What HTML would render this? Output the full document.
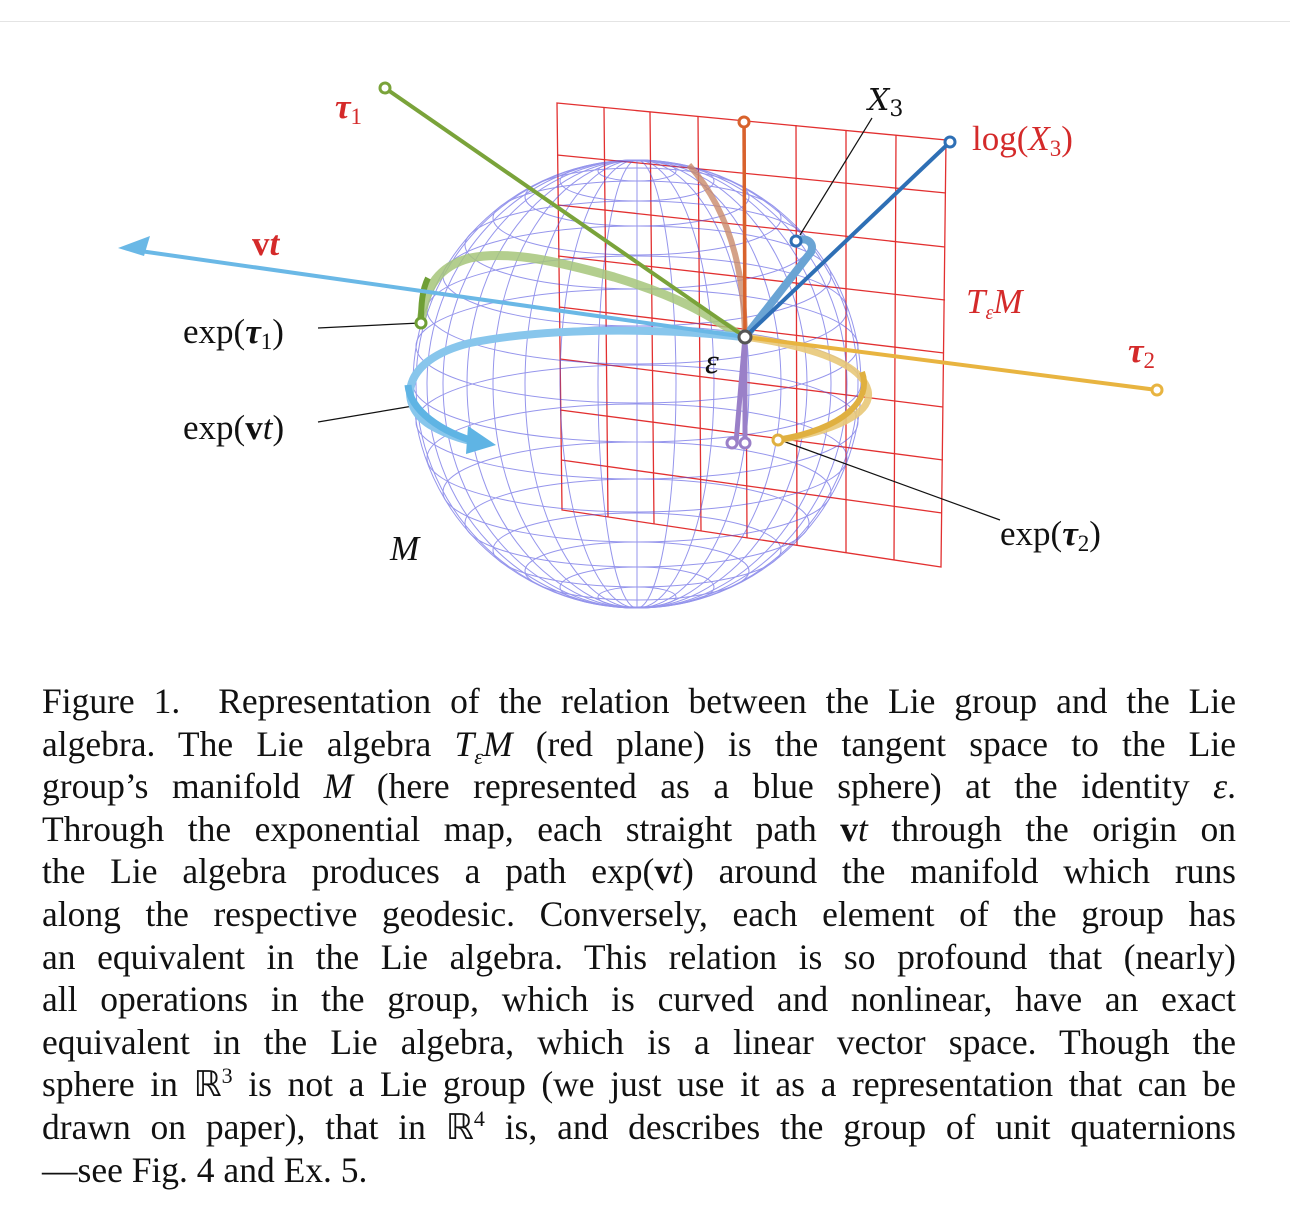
<!DOCTYPE html>
<html><head><meta charset="utf-8"><style>
body{margin:0;background:#fff;width:1290px;height:1222px;overflow:hidden;position:relative;font-family:"Liberation Serif",serif}
.cap{position:absolute;left:42px;top:680px;width:1194px;font-size:35.5px;line-height:42.6px;color:#111}
.cap div{text-align:justify;text-align-last:justify;white-space:nowrap;height:42.6px}
.cap div.l{text-align-last:left}
.cap sub,.cap sup{line-height:0;font-size:22px}
i{font-style:italic}
</style></head><body>
<div style="position:absolute;left:0;top:21px;width:1290px;height:1px;background:#e4e4e4"></div>
<svg width="1290" height="660" style="position:absolute;left:0;top:0" font-family="Liberation Serif,serif">
<g stroke="#e23030" stroke-width="1.3" fill="none">
<path d="M557,103 L946,140 L941,567 L562,510 Z"/>
<path d="M604,107 L608,517 M650,112 L654,524 M698,116 L701,531 M745,121 L747,538 M796,125 L797,545 M846,130 L846,553 M896,135 L894,560"/>
<path d="M557,155 L946,193 M558,205 L945,247 M558,256 L945,300 M559,307 L944,353 M560,359 L943,407 M560,410 L943,460 M561,460 L942,513"/>
</g>
<g stroke="#5050e0" stroke-width="1" fill="none" opacity="0.6">
<ellipse cx="637" cy="384" rx="224" ry="224"/>
<line x1="637" y1="160" x2="637" y2="608"/>
<ellipse cx="637" cy="384" rx="39" ry="224"/><ellipse cx="637" cy="384" rx="77" ry="224"/>
<ellipse cx="637" cy="384" rx="112" ry="224"/><ellipse cx="637" cy="384" rx="144" ry="224"/>
<ellipse cx="637" cy="384" rx="170" ry="224"/><ellipse cx="637" cy="384" rx="194" ry="224"/>
<ellipse cx="637" cy="384" rx="210" ry="224"/><ellipse cx="637" cy="384" rx="221" ry="224"/>
<ellipse cx="637" cy="384" rx="224" ry="58"/>
<ellipse cx="637" cy="346" rx="221" ry="57"/><ellipse cx="637" cy="422" rx="221" ry="57"/>
<ellipse cx="637" cy="310" rx="210" ry="54"/><ellipse cx="637" cy="458" rx="210" ry="54"/>
<ellipse cx="637" cy="276" rx="194" ry="50"/><ellipse cx="637" cy="492" rx="194" ry="50"/>
<ellipse cx="637" cy="245" rx="172" ry="44"/><ellipse cx="637" cy="523" rx="172" ry="44"/>
<ellipse cx="637" cy="218" rx="144" ry="37"/><ellipse cx="637" cy="550" rx="144" ry="37"/>
<ellipse cx="637" cy="197" rx="112" ry="29"/><ellipse cx="637" cy="571" rx="112" ry="29"/>
<ellipse cx="637" cy="181" rx="77" ry="20"/><ellipse cx="637" cy="587" rx="77" ry="20"/>
<ellipse cx="637" cy="171" rx="39" ry="10"/><ellipse cx="637" cy="597" rx="39" ry="10"/>
</g>
<g stroke="#111" stroke-width="1.2" fill="none">
<line x1="318" y1="328" x2="420" y2="323"/>
<line x1="318" y1="422" x2="413" y2="406"/>
<line x1="872" y1="118" x2="800" y2="235"/>
<line x1="1000" y1="520" x2="780" y2="440"/>
</g>
<path d="M743,337 C715,320 690,300 614,277 C560,262 510,250 470,258 C440,266 425,285 421,323" stroke="#a6c67a" stroke-width="9" fill="none" opacity="0.85"/>
<path d="M428,278 C422,290 421,305 421,323" stroke="#6f9f35" stroke-width="6" fill="none"/>
<path d="M745,337 C744,290 738,220 689,165" stroke="#c98a6a" stroke-width="6" fill="none" opacity="0.8"/>
<path d="M743,337 C680,330 560,325 470,343 C400,360 398,405 430,425 C450,437 470,441 480,443" stroke="#88c6ec" stroke-width="8" fill="none"/>
<path d="M408,385 C410,410 440,432 480,443" stroke="#5fb4e4" stroke-width="7" fill="none"/>
<polygon points="468,426 496,445 466,454" fill="#5fb4e4"/>
<path d="M745,337 C800,345 860,360 868,390 C874,415 830,432 778,440" stroke="#e8c878" stroke-width="7" fill="none" opacity="0.9"/>
<path d="M862,372 C872,400 845,428 778,440" stroke="#e0b040" stroke-width="6" fill="none"/>
<path d="M745,337 L811,252 C815,242 806,238 800,240" stroke="#6aa4d4" stroke-width="8" fill="none"/>
<path d="M745,337 L736,443 M745,337 L745,443" stroke="#9a80c8" stroke-width="5" fill="none"/>
<line x1="745" y1="337" x2="385" y2="88" stroke="#7aa33a" stroke-width="4"/>
<line x1="745" y1="337" x2="133" y2="250" stroke="#6ab8e6" stroke-width="4"/>
<polygon points="118,248 150,236 144,256" fill="#6ab8e6"/>
<line x1="745" y1="337" x2="744" y2="122" stroke="#d8622c" stroke-width="3.5"/>
<line x1="745" y1="337" x2="950" y2="142" stroke="#2e6fb5" stroke-width="4"/>
<line x1="745" y1="337" x2="1157" y2="390" stroke="#e8b440" stroke-width="4"/>
<g fill="#fff" stroke-width="3">
<circle cx="385" cy="88" r="5" stroke="#7aa33a"/>
<circle cx="421" cy="323" r="5" stroke="#6f9f35"/>
<circle cx="744" cy="122" r="5" stroke="#d8622c"/>
<circle cx="950" cy="142" r="5" stroke="#2e6fb5"/>
<circle cx="796" cy="241" r="5" stroke="#2e6fb5"/>
<circle cx="1157" cy="390" r="5" stroke="#e8b440"/>
<circle cx="778" cy="440" r="5" stroke="#e0b040"/>
<circle cx="732" cy="443" r="5" stroke="#9a80c8"/>
<circle cx="745" cy="443" r="5" stroke="#9a80c8"/>
<circle cx="745" cy="337" r="6" stroke="#555"/>
</g>
<g font-size="35" fill="#111">
<text x="335" y="118" fill="#d42a2a" font-style="italic" font-weight="bold">τ<tspan font-size="23" dy="6" font-style="normal" font-weight="normal">1</tspan></text>
<text x="252" y="255" fill="#d42a2a" font-weight="bold">v<tspan font-style="italic">t</tspan></text>
<text x="868" y="110" font-style="italic" font-family="DejaVu Serif,serif" font-size="30">X<tspan font-size="22" dy="6" font-style="normal">3</tspan></text>
<text x="972" y="150" fill="#d42a2a">log(<tspan font-style="italic">X</tspan><tspan font-size="23" dy="6">3</tspan><tspan dy="-6">)</tspan></text>
<text x="966" y="313" fill="#d42a2a" font-style="italic">T<tspan font-size="20" dy="6">ε</tspan><tspan dy="-6">M</tspan></text>
<text x="1128" y="362" fill="#d42a2a" font-style="italic" font-weight="bold">τ<tspan font-size="23" dy="6" font-style="normal" font-weight="normal">2</tspan></text>
<text x="183" y="343">exp(<tspan font-style="italic" font-weight="bold">τ</tspan><tspan font-size="23" dy="6">1</tspan><tspan dy="-6">)</tspan></text>
<text x="183" y="439">exp(<tspan font-weight="bold">v</tspan><tspan font-style="italic">t</tspan>)</text>
<text x="705" y="373" font-style="italic">ε</text>
<text x="390" y="560" font-style="italic">M</text>
<text x="1000" y="545">exp(<tspan font-style="italic" font-weight="bold">τ</tspan><tspan font-size="23" dy="6">2</tspan><tspan dy="-6">)</tspan></text>
</g>
</svg>
<div class="cap">
<div>Figure 1.&nbsp; Representation of the relation between the Lie group and the Lie</div>
<div>algebra. The Lie algebra <i>T<sub>ε</sub>M</i> (red plane) is the tangent space to the Lie</div>
<div>group’s manifold <i>M</i> (here represented as a blue sphere) at the identity <i>ε</i>.</div>
<div>Through the exponential map, each straight path <b>v</b><i>t</i> through the origin on</div>
<div>the Lie algebra produces a path exp(<b>v</b><i>t</i>) around the manifold which runs</div>
<div>along the respective geodesic. Conversely, each element of the group has</div>
<div>an equivalent in the Lie algebra. This relation is so profound that (nearly)</div>
<div>all operations in the group, which is curved and nonlinear, have an exact</div>
<div>equivalent in the Lie algebra, which is a linear vector space. Though the</div>
<div>sphere in ℝ<sup>3</sup> is not a Lie group (we just use it as a representation that can be</div>
<div>drawn on paper), that in ℝ<sup>4</sup> is, and describes the group of unit quaternions</div>
<div class="l">—see Fig. 4 and Ex. 5.</div>
</div>
</body></html>
